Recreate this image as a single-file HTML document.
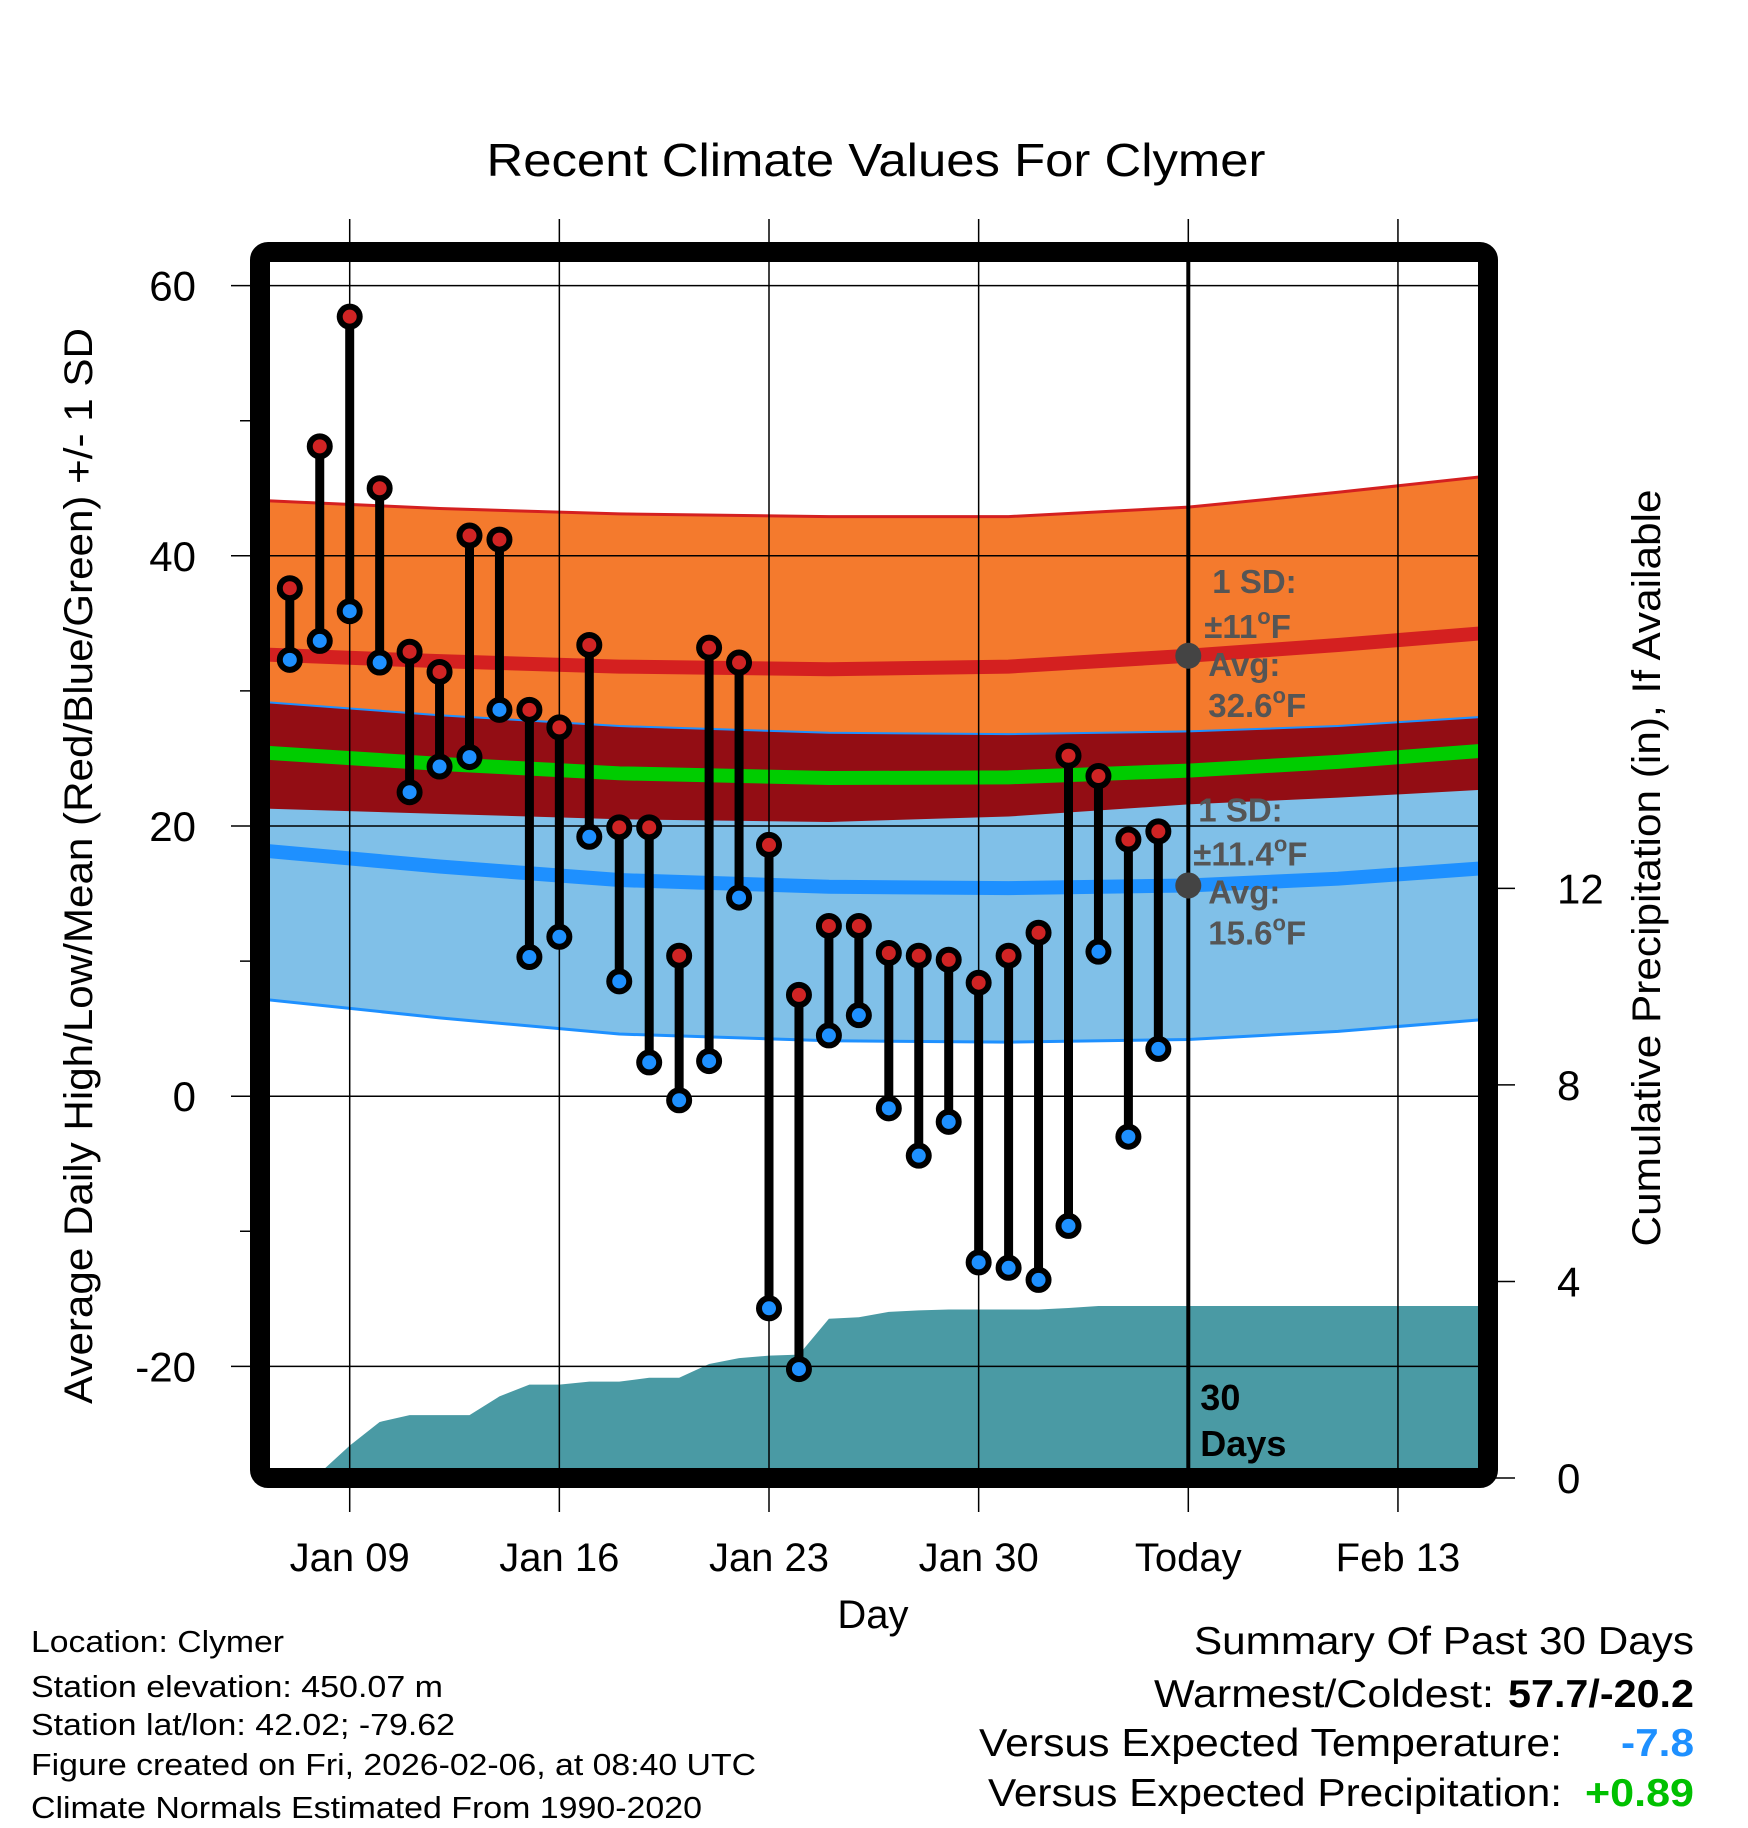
<!DOCTYPE html>
<html><head><meta charset="utf-8"><style>
html,body{margin:0;padding:0;background:#fff;}
svg{display:block;font-family:"Liberation Sans",Arial,sans-serif;}
</style></head><body>
<svg id="chart" width="1748" height="1828" viewBox="0 0 1748 1828" xmlns="http://www.w3.org/2000/svg">
<defs><clipPath id="plotclip"><rect x="270" y="262" width="1208" height="1206"/></clipPath></defs>
<text x="876" y="176" font-size="46" text-anchor="middle" textLength="779" lengthAdjust="spacingAndGlyphs">Recent Climate Values For Clymer</text>
<g id="plot" clip-path="url(#plotclip)"></g>
<g id="overlay"></g>
<text transform="translate(92,866) rotate(-90)" font-size="40" text-anchor="middle" textLength="1076" lengthAdjust="spacingAndGlyphs">Average Daily High/Low/Mean (Red/Blue/Green) +/- 1 SD</text>
<text transform="translate(1660,868) rotate(-90)" font-size="40" text-anchor="middle" textLength="757" lengthAdjust="spacingAndGlyphs">Cumulative Precipitation (in), If Available</text>
<text x="873" y="1628" font-size="40" text-anchor="middle">Day</text>
<g font-size="31">
<text x="31" y="1652" textLength="253" lengthAdjust="spacingAndGlyphs">Location: Clymer</text>
<text x="31" y="1697" textLength="412" lengthAdjust="spacingAndGlyphs">Station elevation: 450.07 m</text>
<text x="31" y="1735" textLength="424" lengthAdjust="spacingAndGlyphs">Station lat/lon: 42.02; -79.62</text>
<text x="31" y="1775" textLength="725" lengthAdjust="spacingAndGlyphs">Figure created on Fri, 2026-02-06, at 08:40 UTC</text>
<text x="31" y="1818" textLength="671" lengthAdjust="spacingAndGlyphs">Climate Normals Estimated From 1990-2020</text>
</g>
<g font-size="39">
<text x="1694" y="1654" text-anchor="end" textLength="500" lengthAdjust="spacingAndGlyphs">Summary Of Past 30 Days</text>
<text x="1494" y="1707" text-anchor="end" textLength="340" lengthAdjust="spacingAndGlyphs">Warmest/Coldest:</text>
<text x="1694" y="1707" text-anchor="end" font-weight="bold" textLength="186" lengthAdjust="spacingAndGlyphs">57.7/-20.2</text>
<text x="1562" y="1756" text-anchor="end" textLength="583" lengthAdjust="spacingAndGlyphs">Versus Expected Temperature:</text>
<text x="1694" y="1756" text-anchor="end" font-weight="bold" fill="#1e90ff" textLength="73" lengthAdjust="spacingAndGlyphs">-7.8</text>
<text x="1562" y="1806" text-anchor="end" textLength="574" lengthAdjust="spacingAndGlyphs">Versus Expected Precipitation:</text>
<text x="1694" y="1806" text-anchor="end" font-weight="bold" fill="#00c000" textLength="109" lengthAdjust="spacingAndGlyphs">+0.89</text>
</g>
</svg>
<script>
const days = [7,8,9,10,11,12,13,14,15,16,17,18,19,20,21,22,23,24,25,26,27,28,29,30,31,32,33,34,35,36];
const highs = [37.6,48.1,57.7,45.0,32.9,31.4,41.5,41.2,28.6,27.3,33.4,19.9,19.9,10.4,33.2,32.1,18.6,7.5,12.6,12.6,10.6,10.4,10.1,8.4,10.4,12.1,25.2,23.7,19.0,19.6];
const lows = [32.3,33.7,35.9,32.1,22.5,24.4,25.1,28.6,10.3,11.8,19.2,8.5,2.5,-0.3,2.6,14.7,-15.7,-20.2,4.5,6.0,-0.9,-4.4,-1.9,-12.3,-12.7,-13.6,-9.6,10.7,-3.0,3.5];
const precip = [0.0,0.1,0.66,1.14,1.28,1.28,1.28,1.66,1.9,1.9,1.96,1.96,2.04,2.04,2.32,2.44,2.49,2.51,3.24,3.27,3.38,3.41,3.43,3.43,3.43,3.43,3.46,3.5,3.5,3.5];
const normDays = [6,12,18,25,31,37,42,47];
const hiAvg = [32.7,32.2,31.8,31.6,31.8,32.6,33.4,34.3];
const hiSD = [11.4,11.3,11.3,11.3,11.1,11.0,11.3,11.6];
const loAvg = [18.2,17.0,16.0,15.5,15.4,15.6,16.1,16.9];
const loSD = [11.0,11.2,11.4,11.4,11.4,11.4,11.3,11.2];
const xTickDays = [9,16,23,30,37,44];
const xTickLabels = ["Jan 09","Jan 16","Jan 23","Jan 30","Today","Feb 13"];
const yTicks = [60,40,20,0,-20];
const yMinor = [50,30,10,-10];
const pTicks = [0,4,8,12];
const todayDay = 37;
const todayHi = 32.6, todayHiSD = 11, todayLo = 15.6, todayLoSD = 11.4;

const xs = d => 349.7 + (d - 9) * 29.95;
const yt = t => 1096.2 - t * 13.51;
const yp = p => 1478 - p * 49.14;
const NS = "http://www.w3.org/2000/svg";
const plot = document.getElementById('plot');
const ov = document.getElementById('overlay');
function mk(tag, attrs, parent){ const e=document.createElementNS(NS,tag); for(const k in attrs) e.setAttribute(k,attrs[k]); parent.appendChild(e); return e; }
function line(vals){ return normDays.map((d,i)=>xs(d)+','+yt(vals[i])).join(' '); }
function band(top, bot){ const a=normDays.map((d,i)=>xs(d)+','+yt(top[i])); const b=normDays.map((d,i)=>xs(d)+','+yt(bot[i])).reverse(); return a.concat(b).join(' '); }
const hiTop = hiAvg.map((v,i)=>v+hiSD[i]), hiBot = hiAvg.map((v,i)=>v-hiSD[i]);
const loTop = loAvg.map((v,i)=>v+loSD[i]), loBot = loAvg.map((v,i)=>v-loSD[i]);
const mean = hiAvg.map((v,i)=>(v+loAvg[i])/2);

let e;
e = mk('polygon',{points:band(hiTop,hiBot),fill:'#f47a2d'},plot);
 
e = mk('polygon',{points:band(loTop,loBot),fill:'#80c0e8'},plot);
 
e = mk('polygon',{points:band(loTop,hiBot),fill:'#930d14'},plot);
 
e = mk('polyline',{points:line(hiTop),fill:'none',stroke:'#d42020','stroke-width':3},plot);
 
e = mk('polyline',{points:line(loTop),fill:'none',stroke:'#1e90ff','stroke-width':2},plot);
 
e = mk('polyline',{points:line(loBot),fill:'none',stroke:'#1e90ff','stroke-width':3},plot);
 
e = mk('polyline',{points:line(hiAvg),fill:'none',stroke:'#d42020','stroke-width':14},plot);
 
e = mk('polyline',{points:line(loAvg),fill:'none',stroke:'#1e90ff','stroke-width':14},plot);
 
e = mk('polyline',{points:line(mean),fill:'none',stroke:'#00cc00','stroke-width':14},plot);
 

// precip area
let pts = days.map((d,i)=>xs(d)+','+yp(precip[i]));
pts.push(xs(47)+','+yp(precip[precip.length-1]));
pts.push(xs(47)+','+yp(0)); pts.push(xs(days[0])+','+yp(0));
e = mk('polygon',{points:pts.join(' '),fill:'#4a9aa4'},plot);
 

// grid
xTickDays.forEach((d,i)=>{
  e = mk('line',{x1:xs(d),x2:xs(d),y1:219,y2:1512,stroke:'#000','stroke-width':1.5},ov);
   
  e = mk('text',{x:xs(d),y:1571,'font-size':40,'text-anchor':'middle'},ov);
  e.textContent = xTickLabels[i];
   
});
yTicks.forEach(t=>{
  e = mk('line',{x1:231,x2:1478,y1:yt(t),y2:yt(t),stroke:'#000','stroke-width':1.5},ov);
   
  e = mk('text',{x:196,y:yt(t)+15,'font-size':42,'text-anchor':'end'},ov);
  e.textContent = String(t);
   
});
yMinor.forEach(t=>{
  e = mk('line',{x1:240,x2:262,y1:yt(t),y2:yt(t),stroke:'#000','stroke-width':1.5},ov);
   
});
pTicks.forEach(p=>{
  e = mk('line',{x1:1478,x2:1515,y1:yp(p),y2:yp(p),stroke:'#000','stroke-width':1.5},ov);
   
  e = mk('text',{x:1557,y:yp(p)+15,'font-size':42},ov);
  e.textContent = String(p);
   
});

// today line
e = mk('line',{x1:xs(todayDay),x2:xs(todayDay),y1:255,y2:1472,stroke:'#000','stroke-width':4},ov);
 

// frame
e = mk('rect',{x:260,y:252,width:1228,height:1226,rx:8,fill:'none',stroke:'#000','stroke-width':20},ov);
 

// annotations
const tx = xs(todayDay);
function lbl(x,y,s,name){ const t=mk('text',{x:x,y:y,'font-size':33,'font-weight':'bold',fill:'#555'},ov); t.innerHTML=s;   return t; }
e = mk('circle',{cx:tx,cy:yt(todayHi),r:13,fill:'#444'},ov);
 
e = mk('circle',{cx:tx,cy:yt(todayLo),r:13,fill:'#444'},ov);
 
lbl(tx+24,yt(todayHi)-63,'1 SD:','high-sd-label');
lbl(tx+16,yt(todayHi)-18,'±'+todayHiSD+'<tspan dy="-14" font-size="22">o</tspan><tspan dy="14">F</tspan>','high-sd-value');
lbl(tx+20,yt(todayHi)+20,'Avg:','high-avg-label');
lbl(tx+20,yt(todayHi)+61,todayHi.toFixed(1)+'<tspan dy="-14" font-size="22">o</tspan><tspan dy="14">F</tspan>','high-avg-value');
lbl(tx+10,yt(todayLo)-64,'1 SD:','low-sd-label');
lbl(tx+5,yt(todayLo)-20,'±'+todayLoSD+'<tspan dy="-14" font-size="22">o</tspan><tspan dy="14">F</tspan>','low-sd-value');
lbl(tx+20,yt(todayLo)+18,'Avg:','low-avg-label');
lbl(tx+20,yt(todayLo)+59,todayLo.toFixed(1)+'<tspan dy="-14" font-size="22">o</tspan><tspan dy="14">F</tspan>','low-avg-value');
e = mk('text',{x:tx+12,y:1410,'font-size':36,'font-weight':'bold'},ov); e.textContent='30';
 
e = mk('text',{x:tx+12,y:1456,'font-size':36,'font-weight':'bold'},ov); e.textContent='Days';
 

// daily bars
days.forEach((d,i)=>{
  const x=xs(d);
  e = mk('line',{x1:x,x2:x,y1:yt(highs[i]),y2:yt(lows[i]),stroke:'#000','stroke-width':9},ov);
   
  e = mk('circle',{cx:x,cy:yt(highs[i]),r:10,fill:'#d02424',stroke:'#000','stroke-width':6},ov);
   
  e = mk('circle',{cx:x,cy:yt(lows[i]),r:10,fill:'#1e90ff',stroke:'#000','stroke-width':6},ov);
   
});
</script>
</body></html>
